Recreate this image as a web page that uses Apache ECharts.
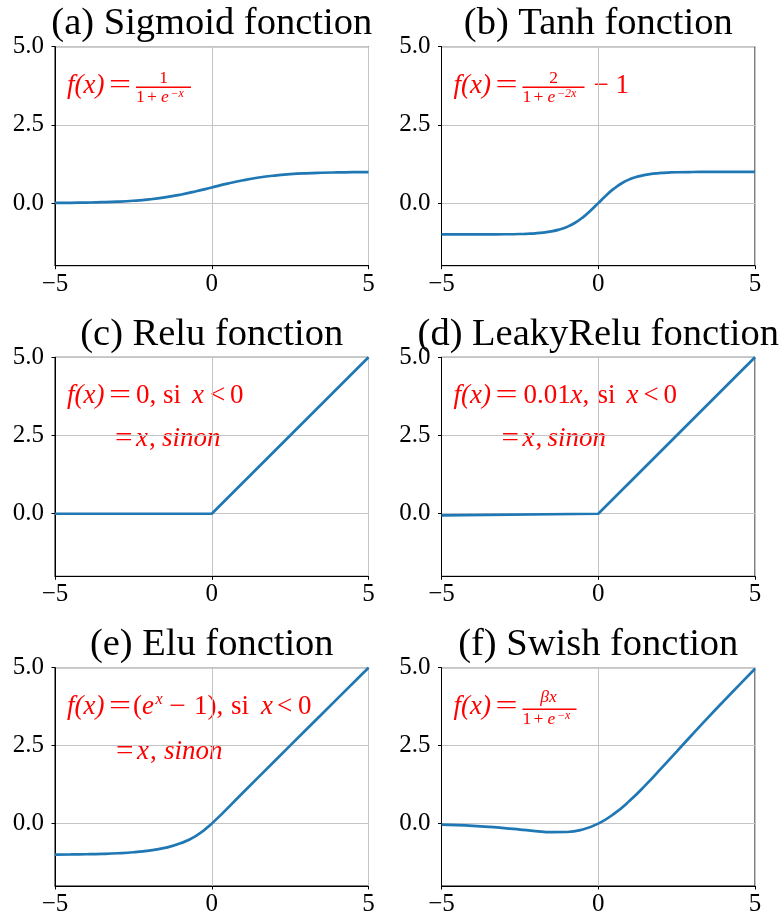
<!DOCTYPE html>
<html><head><meta charset="utf-8">
<script src="https://cdn.jsdelivr.net/npm/echarts@6/dist/echarts.min.js"></script>
<style>html,body{margin:0;padding:0;background:#fff}#c{width:783px;height:917px}</style>
</head><body><div id="c"></div>
<script>
// ---------- data ----------
const titles = ['(a) Sigmoid fonction', '(b) Tanh fonction', '(c) Relu fonction',
                '(d) LeakyRelu fonction', '(e) Elu fonction', '(f) Swish fonction'];
const xTickValues = [-5, 0, 5];
const yTickValues = [0, 2.5, 5];

const sigmoidX = [-5, -4.5, -4, -3.5, -3, -2.5, -2, -1.5, -1, -0.5, 0, 0.5, 1, 1.5, 2, 2.5, 3, 3.5, 4, 4.5, 5];
const sigmoidY = [0.007, 0.011, 0.018, 0.029, 0.047, 0.076, 0.119, 0.182, 0.269, 0.378, 0.5, 0.622, 0.731, 0.818, 0.881, 0.924, 0.953, 0.971, 0.982, 0.989, 0.993];

const tanhX = [-5, -4.5, -4, -3.5, -3, -2.5, -2.25, -2, -1.75, -1.5, -1.25, -1, -0.75, -0.5, -0.25, 0, 0.25, 0.5, 0.75, 1, 1.25, 1.5, 1.75, 2, 2.25, 2.5, 3, 3.5, 4, 4.5, 5];
const tanhY = [-1.0, -1.0, -0.999, -0.998, -0.995, -0.987, -0.978, -0.964, -0.941, -0.905, -0.848, -0.762, -0.635, -0.462, -0.245, 0, 0.245, 0.462, 0.635, 0.762, 0.848, 0.905, 0.941, 0.964, 0.978, 0.987, 0.995, 0.998, 0.999, 1.0, 1.0];

const reluX = [-5, 0, 5];
const reluY = [0, 0, 5];

const leakyX = [-5, 0, 5];
const leakyY = [-0.05, 0, 5];

const eluX = [-5, -4.5, -4, -3.5, -3, -2.5, -2, -1.5, -1, -0.5, 0, 1, 2, 3, 4, 5];
const eluY = [-0.993, -0.989, -0.982, -0.970, -0.950, -0.918, -0.865, -0.777, -0.632, -0.393, 0, 1, 2, 3, 4, 5];

const swishX = [-5, -4.5, -4, -3.5, -3, -2.5, -2, -1.5, -1, -0.5, 0, 0.5, 1, 1.5, 2, 2.5, 3, 3.5, 4, 4.5, 5];
const swishY = [-0.034, -0.049, -0.072, -0.103, -0.142, -0.190, -0.238, -0.274, -0.269, -0.189, 0, 0.311, 0.731, 1.226, 1.762, 2.310, 2.858, 3.398, 3.928, 4.450, 4.967];

// ---------- layout ----------
const colLeft = [55, 441.5];
const rowTop = [46.7, 357.3, 667.7];
const gW = 313.5, gH = 219;
const SERIF = 'Liberation Serif';
const RED = '#ff0000';

const panels = [
  {xs: sigmoidX, ys: sigmoidY, smooth: true},
  {xs: tanhX, ys: tanhY, smooth: true},
  {xs: reluX, ys: reluY, smooth: false},
  {xs: leakyX, ys: leakyY, smooth: false},
  {xs: eluX, ys: eluY, smooth: true},
  {xs: swishX, ys: swishY, smooth: true}
];

function pos(i) { return {L: colLeft[i % 2], T: rowTop[Math.floor(i / 2)]}; }

const grids = [], xAxes = [], yAxes = [], series = [], graphics = [];
const TITLE_SIZE = 38.5;

panels.forEach((p, i) => {
  const {L, T} = pos(i);
  grids.push({left: L, top: T, width: gW, height: gH, show: true, borderColor: '#000', borderWidth: 1, backgroundColor: 'transparent', containLabel: false});
  xAxes.push({
    type: 'value', gridIndex: i, min: -5, max: 5, interval: 5,
    axisLine: {show: true, onZero: false, lineStyle: {color: '#000', width: 1}},
    axisTick: {show: true, inside: false, length: 3.5, lineStyle: {color: '#000', width: 1}},
    axisLabel: {show: true, showMinLabel: true, showMaxLabel: true, margin: 6, color: '#000', fontFamily: SERIF, fontSize: 25,
      formatter: v => (v < 0 ? '\u2212' + Math.abs(v) : String(v))},
    splitLine: {show: true, lineStyle: {color: '#c4c4c4', width: 1}}
  });
  yAxes.push({
    type: 'value', gridIndex: i, min: -2, max: 5,
    axisLine: {show: true, onZero: false, lineStyle: {color: '#000', width: 1}},
    axisTick: {show: true, inside: false, length: 3.5, customValues: yTickValues, lineStyle: {color: '#000', width: 1}},
    axisLabel: {show: true, customValues: yTickValues, margin: 11, color: '#000', fontFamily: SERIF, fontSize: 25,
      formatter: v => v.toFixed(1)},
    splitLine: {show: true, lineStyle: {color: '#c4c4c4', width: 1}}
  });
  series.push({
    type: 'line', xAxisIndex: i, yAxisIndex: i,
    data: p.xs.map((x, j) => [x, p.ys[j]]),
    smooth: p.smooth ? 0.5 : false,
    showSymbol: false, symbol: 'none',
    lineStyle: {color: '#1f77b4', width: 2.7}, clip: true, animation: false
  });
  graphics.push({type: 'text', x: L + gW / 2, y: T - 9.4 - 0.34 * TITLE_SIZE,
    style: {text: titles[i], font: TITLE_SIZE + 'px "Liberation Serif"', fill: '#000', textAlign: 'center', align: 'center', textVerticalAlign: 'middle', verticalAlign: 'middle'}});
});

// ---------- formula helpers ----------
function t(i, dx, base, s, size, italic, opts) {
  const {L, T} = pos(i);
  opts = opts || {};
  const al = opts.center ? 'center' : 'left';
  const el = {type: 'text', x: L + dx, y: T + base - 0.34 * size,
    style: {text: s, font: (italic ? 'italic ' : '') + size + 'px "Liberation Serif"', fill: RED,
      textAlign: al, align: al, textVerticalAlign: 'middle', verticalAlign: 'middle'}};
  if (opts.sx) { el.scaleX = opts.sx; }
  graphics.push(el);
}
function bar(i, x1, x2, y) {
  const {L, T} = pos(i);
  graphics.push({type: 'line', shape: {x1: L + x1, y1: T + y, x2: L + x2, y2: T + y}, style: {stroke: RED, lineWidth: 1.4}});
}
const F = 27, S = 17.5, SS = 12;
const B1 = 48, B2 = 92;
function lhs(i) { t(i, 12, B1, 'f(x)', F, true); t(i, 54, B1, '=', F, false, {sx: 1.45}); }
function denom(i, base, sup, supX) {
  t(i, 81, base, '1', S, false); t(i, 92, base, '+', S, false); t(i, 106, base, 'e', S, true); t(i, supX, base - 5.5, sup, SS, true);
}

// (a) sigmoid
lhs(0);
bar(0, 81, 136, 40.6);
t(0, 108.5, 37.3, '1', S, false, {center: true});
denom(0, 56.6, '\u2212x', 115.5);

// (b) tanh
lhs(1);
bar(1, 81, 143, 40.6);
t(1, 112, 37.3, '2', S, false, {center: true});
denom(1, 56.6, '\u22122x', 115.5);
t(1, 152, B1, '\u2212', F, false); t(1, 174, B1, '1', F, false);

// (c) relu
lhs(2);
t(2, 81, B1, '0,', F, false); t(2, 108, B1, 'si', F, false); t(2, 137, B1, 'x', F, true);
t(2, 155, B1, '<', F, false); t(2, 175, B1, '0', F, false);
t(2, 60, B2 - 1, '=', F, false, {sx: 1.15}); t(2, 81, B2 - 1, 'x', F, true); t(2, 94, B2 - 1, ',', F, false); t(2, 107, B2 - 1, 'sinon', F, true);

// (d) leaky relu
lhs(3);
t(3, 82, B1, '0.01', F, false); t(3, 129, B1, 'x', F, true); t(3, 141, B1, ',', F, false);
t(3, 156, B1, 'si', F, false); t(3, 185, B1, 'x', F, true); t(3, 202, B1, '<', F, false); t(3, 222, B1, '0', F, false);
t(3, 60, B2 - 1, '=', F, false, {sx: 1.15}); t(3, 81, B2 - 1, 'x', F, true); t(3, 94, B2 - 1, ',', F, false); t(3, 106, B2 - 1, 'sinon', F, true);

// (e) elu
lhs(4);
t(4, 78, B1, '(', F, false); t(4, 87, B1, 'e', F, true); t(4, 100.5, B1 - 10, 'x', 16, true);
t(4, 114, B1, '\u2212', F, false, {sx: 1.1}); t(4, 139, B1, '1', F, false); t(4, 152.5, B1, '),', F, false);
t(4, 176, B1, 'si', F, false); t(4, 206, B1, 'x', F, true); t(4, 222, B1, '<', F, false); t(4, 243, B1, '0', F, false);
t(4, 61, B2 + 1, '=', F, false, {sx: 1.15}); t(4, 82, B2 + 1, 'x', F, true); t(4, 95, B2 + 1, ',', F, false); t(4, 109, B2 + 1, 'sinon', F, true);

// (f) swish
lhs(5);
bar(5, 81, 135, 41.6);
t(5, 107, 35.6, '\u03b2x', S, true, {center: true});
denom(5, 57.3, '\u2212x', 115.5);

const chart = echarts.init(document.getElementById('c'), null, {renderer: 'canvas'});
chart.setOption({
  backgroundColor: '#fff',
  animation: false,
  grid: grids, xAxis: xAxes, yAxis: yAxes, series: series,
  graphic: {elements: graphics}
});
</script></body></html>
